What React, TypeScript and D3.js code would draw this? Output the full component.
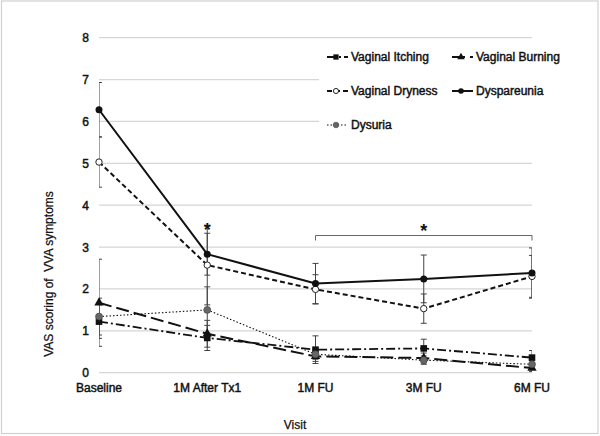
import { useEffect, useRef } from 'react';
import * as d3 from 'd3';

// Visits on the x axis
const visits = ['Baseline', '1M After Tx1', '1M FU', '3M FU', '6M FU'];
const yTicks = [0, 1, 2, 3, 4, 5, 6, 7, 8];

// Mean VAS scores per symptom
const itching = [1.22, 0.83, 0.55, 0.58, 0.36];
const burning = [1.67, 0.93, 0.39, 0.35, 0.11];
const dryness = [5.03, 2.57, 1.99, 1.53, 2.3];
const dyspareunia = [6.28, 2.83, 2.13, 2.24, 2.38];
const dysuria = [1.34, 1.5, 0.44, 0.3, 0.2];

// Error bar half-widths
const itchingErr = [0.4, 0.3, 0.33, 0.22, 0.17];
const burningErr = [1.04, 0.32, 0.12, 0.12, 0.08];
const drynessErr = [0.6, 0.95, 0.35, 0.35, 0.5];
const dyspareuniaErr = [0.65, 0.5, 0.48, 0.57, 0.6];
const dysuriaErr = [0.44, 0.55, 0.12, 0.1, 0.1];

type Marker = 'square' | 'triangle' | 'openCircle' | 'circle' | 'grayCircle';

interface Series {
  name: string;
  values: number[];
  err: number[];
  dash: string;
  width: number;
  marker: Marker;
}

const series: Series[] = [
  { name: 'Vaginal Burning', values: burning, err: burningErr, dash: '13,5', width: 2, marker: 'triangle' },
  { name: 'Vaginal Itching', values: itching, err: itchingErr, dash: '9,3,2,3', width: 1.8, marker: 'square' },
  { name: 'Dysuria', values: dysuria, err: dysuriaErr, dash: '1.5,2', width: 1.1, marker: 'grayCircle' },
  { name: 'Vaginal Dryness', values: dryness, err: drynessErr, dash: '5,3', width: 2, marker: 'openCircle' },
  { name: 'Dyspareunia', values: dyspareunia, err: dyspareuniaErr, dash: '', width: 2, marker: 'circle' },
];

const legendRows: { name: string; col: number; row: number }[] = [
  { name: 'Vaginal Itching', col: 0, row: 0 },
  { name: 'Vaginal Burning', col: 1, row: 0 },
  { name: 'Vaginal Dryness', col: 0, row: 1 },
  { name: 'Dyspareunia', col: 1, row: 1 },
  { name: 'Dysuria', col: 0, row: 2 },
];

const W = 600;
const H = 436;
const FONT = '"Liberation Sans", Arial, sans-serif';

const drawMarker = (
  g: d3.Selection<SVGGElement, unknown, null, undefined>,
  type: Marker,
  x: number,
  y: number,
  k = 1
) => {
  if (type === 'square') {
    g.append('rect').attr('x', x - 3.3 * k).attr('y', y - 3.3 * k).attr('width', 6.6 * k).attr('height', 6.6 * k).attr('fill', '#111');
  } else if (type === 'triangle') {
    const s = d3.symbol(d3.symbolTriangle, 38 * k * k)();
    g.append('path').attr('d', s).attr('transform', `translate(${x},${y})`).attr('fill', '#111');
  } else if (type === 'openCircle') {
    g.append('circle').attr('cx', x).attr('cy', y).attr('r', 3.2 * k).attr('fill', '#fff').attr('stroke', '#222').attr('stroke-width', 1);
  } else if (type === 'circle') {
    g.append('circle').attr('cx', x).attr('cy', y).attr('r', 3.5 * k).attr('fill', '#111');
  } else {
    g.append('circle').attr('cx', x).attr('cy', y).attr('r', 3.5 * k).attr('fill', '#666').attr('stroke', '#444').attr('stroke-width', 0.6);
  }
};

// text that looks a little heavier than regular, like the scanned original
const label = (
  sel: d3.Selection<SVGTextElement, any, any, any>,
  size = 12
) =>
  sel
    .attr('font-family', FONT)
    .attr('font-size', size)
    .attr('fill', '#111')
    .attr('stroke', '#111')
    .attr('stroke-width', 0.45);

const App = () => {
  const svgRef = useRef<SVGSVGElement>(null);

  useEffect(() => {
    if (!svgRef.current) return;
    const svg = d3.select(svgRef.current);
    svg.selectAll('*').remove();

    const x = d3.scalePoint<string>().domain(visits).range([99, 532]);
    const y = d3.scaleLinear().domain([0, 8]).range([372.7, 37.7]);

    // outer frame
    svg.append('rect')
      .attr('x', 1.5).attr('y', 1).attr('width', W - 3.5).attr('height', H - 3.5)
      .attr('fill', '#fff').attr('stroke', '#d0d0d0').attr('stroke-width', 1.2);

    // gridlines
    svg.append('g')
      .selectAll('line')
      .data(yTicks)
      .enter()
      .append('line')
      .attr('x1', 99).attr('x2', 532)
      .attr('y1', d => y(d)).attr('y2', d => y(d))
      .attr('stroke', '#d6d6d6').attr('stroke-width', 1.2);

    // y tick labels
    svg.append('g')
      .selectAll('text')
      .data(yTicks)
      .enter()
      .append('text')
      .attr('x', 89).attr('y', d => y(d) + 4.5)
      .attr('text-anchor', 'end')
      .call(label)
      .text(d => d);

    // x tick labels
    svg.append('g')
      .selectAll('text')
      .data(visits)
      .enter()
      .append('text')
      .attr('x', d => x(d)!).attr('y', 392)
      .attr('text-anchor', 'middle')
      .call(label)
      .text(d => d);

    // axis titles
    svg.append('text')
      .attr('x', 295).attr('y', 429)
      .attr('text-anchor', 'middle')
      .call(label)
      .attr('stroke-width', 0.25)
      .text('Visit');
    svg.append('text')
      .attr('transform', 'translate(53,274) rotate(-90)')
      .attr('text-anchor', 'middle')
      .call(label)
      .attr('stroke-width', 0.25)
      .style('white-space', 'pre')
      .text('VAS scoring of  VVA symptoms');

    // clip for error bars
    svg.append('clipPath').attr('id', 'plotClip')
      .append('rect').attr('x', 99).attr('y', 0).attr('width', 433).attr('height', 380);

    const errG = svg.append('g').attr('clip-path', 'url(#plotClip)');
    series.forEach(s => {
      s.values.forEach((v, i) => {
        const cx = x(visits[i])!;
        const top = y(v + s.err[i]);
        const bot = y(v - s.err[i]);
        errG.append('line').attr('x1', cx).attr('x2', cx).attr('y1', top).attr('y2', bot)
          .attr('stroke', '#444').attr('stroke-width', 1);
        [top, bot].forEach(yy => {
          errG.append('line').attr('x1', cx - 3).attr('x2', cx + 3).attr('y1', yy).attr('y2', yy)
            .attr('stroke', '#444').attr('stroke-width', 1);
        });
      });
    });

    // lines
    const line = d3.line<number>()
      .x((_, i) => x(visits[i])!)
      .y(d => y(d));
    series.forEach(s => {
      svg.append('path')
        .attr('d', line(s.values) || '')
        .attr('fill', 'none')
        .attr('stroke', '#111')
        .attr('stroke-width', s.width)
        .attr('stroke-dasharray', s.dash || null);
    });

    // markers
    const mG = svg.append('g');
    series.forEach(s => {
      s.values.forEach((v, i) => drawMarker(mG, s.marker, x(visits[i])!, y(v)));
    });

    // significance marks
    const sigG = svg.append('g');
    sigG.append('text')
      .attr('x', x('1M After Tx1')!).attr('y', 236)
      .attr('text-anchor', 'middle')
      .attr('font-family', FONT).attr('font-size', 18).attr('font-weight', 'bold').attr('fill', '#111')
      .text('*');
    sigG.append('path')
      .attr('d', `M${x('1M FU')},240.5V235.5H${x('6M FU')}V240.5`)
      .attr('fill', 'none').attr('stroke', '#666').attr('stroke-width', 1);
    sigG.append('text')
      .attr('x', (x('1M FU')! + x('6M FU')!) / 2).attr('y', 237)
      .attr('text-anchor', 'middle')
      .attr('font-family', FONT).attr('font-size', 18).attr('font-weight', 'bold').attr('fill', '#111')
      .text('*');

    // legend
    const lg = svg.append('g');
    lg.append('rect').attr('x', 319).attr('y', 46).attr('width', 262).attr('height', 92).attr('fill', '#fff');
    const colX = [327, 452];
    const rowY = [57, 91, 125];
    legendRows.forEach(r => {
      const s = series.find(d => d.name === r.name)!;
      const x0 = colX[r.col];
      const yy = rowY[r.row];
      lg.append('line')
        .attr('x1', x0).attr('x2', x0 + 21).attr('y1', yy).attr('y2', yy)
        .attr('stroke', '#111').attr('stroke-width', s.width)
        .attr('stroke-dasharray', s.dash || null);
      drawMarker(lg, s.marker, x0 + 9, yy, 0.8);
      lg.append('text')
        .attr('x', x0 + 24).attr('y', yy + 4.3)
        .call(label)
        .text(r.name);
    });
  }, []);

  return (
    <div style={{ position: 'absolute', left: 0, top: 0 }}>
      <svg ref={svgRef} width={W} height={H} style={{ display: 'block' }}></svg>
    </div>
  );
};

export default App;
